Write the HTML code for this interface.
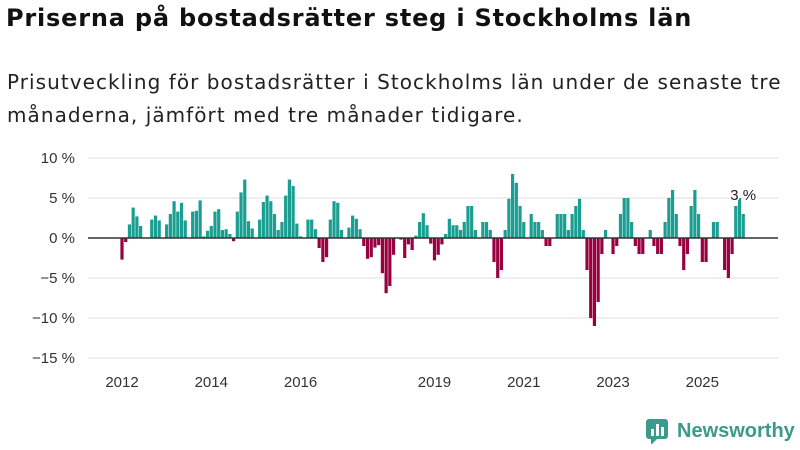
<!DOCTYPE html>
<html><head><meta charset="utf-8"><style>
body{margin:0;width:800px;height:450px;background:#fff;font-family:"Liberation Sans",sans-serif;overflow:hidden;position:relative;color:#222}
h1{position:absolute;left:6px;top:4px;margin:0;font-family:"DejaVu Sans",sans-serif;font-size:24px;font-weight:bold;color:#111;white-space:nowrap;letter-spacing:0.8px}
p{position:absolute;left:7px;top:66px;margin:0;font-family:"DejaVu Sans",sans-serif;font-size:20px;line-height:33px;color:#222;width:795px;letter-spacing:1.05px;white-space:nowrap}
#logo{position:absolute;left:645px;top:418px;display:flex;align-items:center;gap:6px;color:#3a9a8c;font-size:20px;font-weight:bold}
</style></head><body>
<h1>Priserna på bostadsrätter steg i Stockholms län</h1>
<p>Prisutveckling för bostadsrätter i Stockholms län under de senaste tre<br>månaderna, jämfört med tre månader tidigare.</p>
<svg id="chart" width="800" height="450" style="position:absolute;left:0;top:0"></svg>
<div id="logo"><svg width="26" height="26" viewBox="0 0 26 26"><rect x="1" y="1" width="22" height="20" rx="3" fill="#3a9a8c"/><path d="M6 21 L6 27 L12 21Z" fill="#3a9a8c"/><rect x="6" y="11" width="3" height="7" fill="#fff"/><rect x="11" y="6" width="3" height="12" fill="#fff"/><rect x="16" y="9" width="3" height="9" fill="#fff"/></svg><span>Newsworthy</span></div>
<script>
const startYear = 2012;
const values = [-2.7,-0.5,1.7,3.8,2.7,1.5,0,0,2.3,2.8,2.2,0,
1.7,3.0,4.6,3.3,4.4,2.2,0,3.3,3.4,4.7,0.2,0.9,
1.5,3.3,3.6,1.0,1.1,0.5,-0.4,3.3,5.7,7.3,2.1,1.2,
0,2.3,4.5,5.3,4.6,3.0,1.0,2.0,5.3,7.3,6.5,1.8,
0.2,0,2.3,2.3,1.1,-1.25,-3.0,-2.4,2.3,4.6,4.4,1.0,
0,1.3,2.8,2.4,1.1,-1.0,-2.6,-2.4,-1.2,-0.9,-4.4,-6.9,
-6.0,-2.1,0,-0.2,-2.5,-0.8,-1.5,0.3,2.0,3.1,1.6,-0.7,
-2.8,-2.1,-0.8,0.5,2.4,1.6,1.6,1.0,2.0,4.0,4.0,1.0,
0,2.0,2.0,1.0,-3.0,-5.0,-4.0,1.0,4.9,8.0,6.9,4.0,
2.0,0,3.0,2.0,2.0,1.0,-1.0,-1.0,0,3.0,3.0,3.0,
1.0,3.0,4.0,4.9,1.0,-4.0,-10.0,-11.0,-8.0,-2.0,1.0,0,
-2.0,-1.0,3.0,5.0,5.0,2.0,-1.0,-2.0,-2.0,0,1.0,-1.0,
-2.0,-2.0,2.0,5.0,6.0,3.0,-1.0,-4.0,-2.0,4.0,6.0,3.0,
-3.0,-3.0,0,2.0,2.0,0,-4.0,-5.0,-2.0,4.0,5.0,3.0];
const yTicks = [10,5,0,-5,-10,-15];
const xTickYears = [2012,2014,2016,2019,2021,2023,2025];
const lastLabel = "3 %";
const svg = document.getElementById('chart');
const NS='http://www.w3.org/2000/svg';
const X0=122, MW=3.72, Y0=238, PPU=8;
const xs = i => X0 + MW*i;
const ys = v => Y0 - v*PPU;
function mk(t,a){const e=document.createElementNS(NS,t);for(const k in a)e.setAttribute(k,a[k]);svg.appendChild(e);return e;}
yTicks.forEach(t=>{
  if(t!==0){const g=mk('line',{x1:88,x2:778,y1:ys(t),y2:ys(t),stroke:'#ddd','stroke-width':1});
  
  }
  const l=mk('text',{x:75,y:ys(t)+5,'text-anchor':'end','font-size':15,fill:'#333','font-family':'Liberation Sans, sans-serif'});
  l.textContent=(t<0?'−'+(-t):t)+' %';
  
  
});
xTickYears.forEach(y=>{
  const l=mk('text',{x:xs((y-startYear)*12),y:387,'text-anchor':'middle','font-size':15,fill:'#333','font-family':'Liberation Sans, sans-serif'});
  l.textContent=y;
  
  
});
values.forEach((v,i)=>{
  if(v===0)return;
  const r=mk('rect',{x:xs(i)-1.6,width:3.2,y:Math.min(ys(v),Y0),height:Math.abs(v)*PPU,fill:v>0?'#1a9e92':'#990040'});
  
  
});
const z=mk('line',{x1:88,x2:778,y1:Y0,y2:Y0,stroke:'#333','stroke-width':1.5});


const li=values.length-1;
const ll=mk('text',{x:xs(li),y:ys(values[li])-14,'text-anchor':'middle','font-size':15,fill:'#222','font-family':'Liberation Sans, sans-serif',stroke:'#fff','stroke-width':3,'paint-order':'stroke'});
ll.textContent=lastLabel;


</script>
</body></html>
